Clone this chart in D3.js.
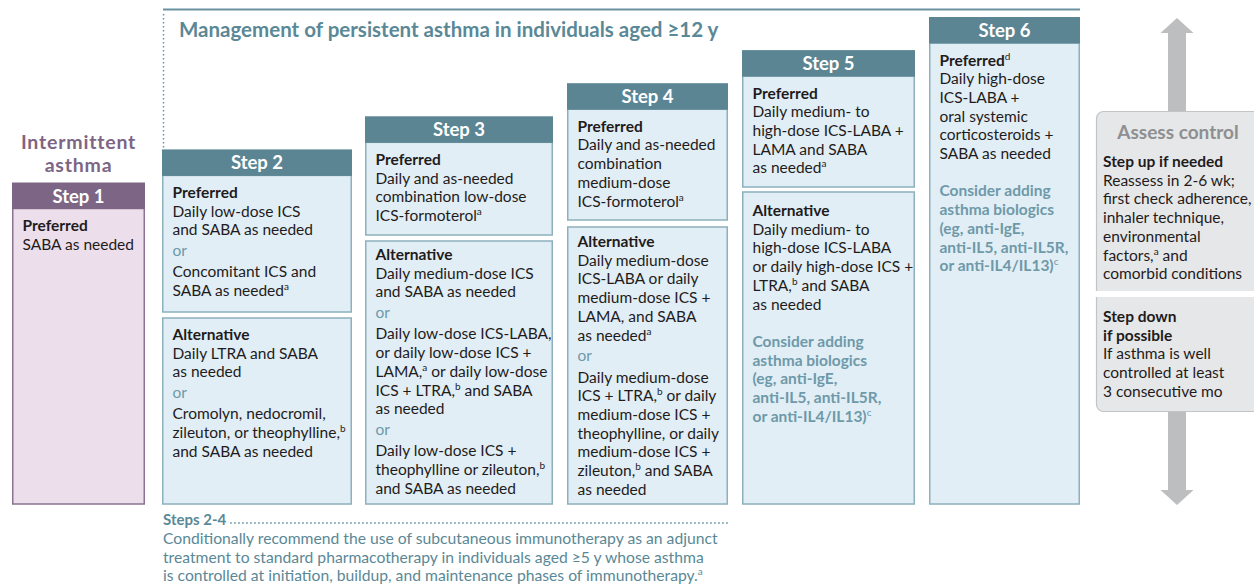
<!DOCTYPE html>
<html>
<head>
<meta charset="utf-8">
<script src="https://cdnjs.cloudflare.com/ajax/libs/d3/7.8.5/d3.min.js"></script>
<style>
  body { margin: 0; background: #fff; }
  svg { display: block; font-family: Lato, "Open Sans", sans-serif; }
</style>
</head>
<body>
<div id="chart"></div>
<script>
// ─────────────────────────────────────────────
// DONNÉES
// ─────────────────────────────────────────────
const steps = ['Step 1', 'Step 2', 'Step 3', 'Step 4', 'Step 5', 'Step 6'];
const preferredNotes = ['', '', '', '', '', 'd'];

// chaque étape : groupes d'options séparés par « or »
const preferredOptions = [
  [['SABA as needed']],
  [['Daily low-dose ICS', 'and SABA as needed'], ['Concomitant ICS and', 'SABA as needed^a']],
  [['Daily and as-needed', 'combination low-dose', 'ICS-formoterol^a']],
  [['Daily and as-needed', 'combination', 'medium-dose', 'ICS-formoterol^a']],
  [['Daily medium- to', 'high-dose ICS-LABA +', 'LAMA and SABA', 'as needed^a']],
  [['Daily high-dose', 'ICS-LABA +', 'oral systemic', 'corticosteroids +', 'SABA as needed']]
];
const alternativeOptions = [
  null,
  [['Daily LTRA and SABA', 'as needed'],
   ['Cromolyn, nedocromil,', 'zileuton, or theophylline,^b', 'and SABA as needed']],
  [['Daily medium-dose ICS', 'and SABA as needed'],
   ['Daily low-dose ICS-LABA,', 'or daily low-dose ICS +', 'LAMA,^a or daily low-dose', 'ICS + LTRA,^b and SABA', 'as needed'],
   ['Daily low-dose ICS +', 'theophylline or zileuton,^b', 'and SABA as needed']],
  [['Daily medium-dose', 'ICS-LABA or daily', 'medium-dose ICS +', 'LAMA, and SABA', 'as needed^a'],
   ['Daily medium-dose', 'ICS + LTRA,^b or daily', 'medium-dose ICS +', 'theophylline, or daily', 'medium-dose ICS +', 'zileuton,^b and SABA', 'as needed']],
  [['Daily medium- to', 'high-dose ICS-LABA', 'or daily high-dose ICS +', 'LTRA,^b and SABA', 'as needed']],
  null
];
const biologicsLines = ['Consider adding', 'asthma biologics', '(eg, anti-IgE,', 'anti-IL5, anti-IL5R,', 'or anti-IL4/IL13)^c'];
const biologicsSteps = ['Step 5', 'Step 6'];

const titleText = 'Management of persistent asthma in individuals aged ≥12 y';
const intermittentText = ['Intermittent', 'asthma'];
const assessTitle = 'Assess control';
const stepUpHead = ['Step up if needed'];
const stepUpLines = ['Reassess in 2-6 wk;', 'first check adherence,', 'inhaler technique,', 'environmental', 'factors,^a and', 'comorbid conditions'];
const stepDownHead = ['Step down', 'if possible'];
const stepDownLines = ['If asthma is well', 'controlled at least', '3 consecutive mo'];
const noteHead = 'Steps 2-4';
const noteLines = [
  'Conditionally recommend the use of subcutaneous immunotherapy as an adjunct',
  'treatment to standard pharmacotherapy in individuals aged ≥5 y whose asthma',
  'is controlled at initiation, buildup, and maintenance phases of immunotherapy.^a'
];

// ─────────────────────────────────────────────
// MISE EN PAGE
// ─────────────────────────────────────────────
const W = 1254, H = 586;
const colX   = [12, 162, 365, 567, 742, 929];
const colW   = [133, 190, 188, 161, 173, 151];
const bottom = 504;
const headH  = 26;
const prefBottom = [bottom, 312, 235, 220, 187, bottom];
const altTop     = [null, 318, 241, 227, 192, null];
const altTextY   = [null, 340, 260, 247, 216, null];
const LH = 18.7, OR_BEFORE = 20.5, OR_AFTER = 21.5;

const C = {
  head: '#5b8593', fill: '#e1eef5', stroke: '#8db0bd', or: '#6e99a9', text: '#1f1b1c',
  pHead: '#7d6585', pFill: '#ecdfeb', pStroke: '#8b7391', pText: '#7d6585',
  gFill: '#e6e7e8', gStroke: '#c3c4c6', gText: '#8e8f91', arrow: '#bdbec0'
};

const svg = d3.select('#chart').append('svg').attr('width', W).attr('height', H);

// hauteur des en-têtes : escalier régulier
const yHead = d3.scaleLinear().domain([0, 5]).range([182.5, 17]);

function addLine(g, x, y, str, opt = {}) {
  const t = g.append('text').attr('x', x).attr('y', y)
    .attr('font-size', opt.size || 15.5)
    .attr('font-weight', opt.bold ? 700 : 400)
    .attr('fill', opt.color || C.text)
    .attr('text-anchor', opt.anchor || 'start');
  if (opt.spacing) t.attr('letter-spacing', opt.spacing);
  let shifted = false;
  str.split(/(\^\w)/).forEach(part => {
    if (!part) return;
    if (part[0] === '^') {
      t.append('tspan').attr('font-size', 10).attr('font-weight', 400).attr('dy', -6).text(part.slice(1));
      shifted = true;
    } else {
      const s = t.append('tspan').text(part);
      if (shifted) { s.attr('dy', 6); shifted = false; }
    }
  });
  return t;
}

function drawSection(g, x, y, label, groups) {
  addLine(g, x, y, label, { bold: true });
  groups.forEach((lines, gi) => {
    if (gi > 0) {
      y += OR_BEFORE;
      addLine(g, x, y, 'or', { color: C.or });
      y += OR_AFTER - LH;
    }
    lines.forEach(l => { y += LH; addLine(g, x, y, l); });
  });
  return y;
}

// ligne de titre
svg.append('line').attr('x1', 163).attr('x2', 1080).attr('y1', 9.5).attr('y2', 9.5)
  .attr('stroke', '#6b919f').attr('stroke-width', 2);
svg.append('line').attr('x1', 163.5).attr('x2', 163.5).attr('y1', 14).attr('y2', 150)
  .attr('stroke', '#6b919f').attr('stroke-width', 1.5).attr('stroke-dasharray', '1.5 2.5');
addLine(svg, 179, 37, titleText, { bold: true, size: 20.5, color: '#5a8896' });

intermittentText.forEach((t, i) =>
  addLine(svg, 78.5, 149 + i * 23, t, { bold: true, size: 19.5, spacing: 0.8, color: C.pText, anchor: 'middle' }));

// colonnes
steps.forEach((name, i) => {
  const g = svg.append('g');
  const x = colX[i], w = colW[i], top = yHead(i);
  const purple = i === 0;
  const fill = purple ? C.pFill : C.fill, stroke = purple ? C.pStroke : C.stroke;

  g.append('rect').attr('x', x + 0.75).attr('y', top + headH).attr('width', w - 1.5)
    .attr('height', prefBottom[i] - top - headH).attr('fill', fill).attr('stroke', stroke).attr('stroke-width', 1.5);
  if (altTop[i] != null) {
    g.append('rect').attr('x', x + 0.75).attr('y', altTop[i]).attr('width', w - 1.5)
      .attr('height', bottom - altTop[i]).attr('fill', fill).attr('stroke', stroke).attr('stroke-width', 1.5);
  }
  g.append('rect').attr('x', x).attr('y', top).attr('width', w).attr('height', headH + 0.5)
    .attr('fill', purple ? C.pHead : C.head);
  addLine(g, x + w / 2, top + 20, name, { bold: true, size: 18.5, color: '#fff', anchor: 'middle' });

  const tx = x + 10.5;
  let y = drawSection(g, tx, top + headH + 22.5, 'Preferred' + (preferredNotes[i] ? '^' + preferredNotes[i] : ''), preferredOptions[i]);
  if (alternativeOptions[i]) y = drawSection(g, tx, altTextY[i], 'Alternative', alternativeOptions[i]);
  if (biologicsSteps.includes(name)) {
    y += LH;
    biologicsLines.forEach(l => { y += LH; addLine(g, tx, y, l, { bold: true, color: C.or }); });
  }
});

// évaluer le contrôle
const ax = 1177;
const arrowUp = d3.path();
arrowUp.moveTo(ax, 18); arrowUp.lineTo(ax + 16.5, 33); arrowUp.lineTo(ax + 9, 33); arrowUp.lineTo(ax + 9, 113);
arrowUp.lineTo(ax - 9, 113); arrowUp.lineTo(ax - 9, 33); arrowUp.lineTo(ax - 16.5, 33); arrowUp.closePath();
const arrowDown = d3.path();
arrowDown.moveTo(ax, 505); arrowDown.lineTo(ax + 16.5, 490); arrowDown.lineTo(ax + 9, 490); arrowDown.lineTo(ax + 9, 411);
arrowDown.lineTo(ax - 9, 411); arrowDown.lineTo(ax - 9, 490); arrowDown.lineTo(ax - 16.5, 490); arrowDown.closePath();
svg.append('path').attr('d', arrowUp.toString()).attr('fill', C.arrow);
svg.append('path').attr('d', arrowDown.toString()).attr('fill', C.arrow);

function roundTop(x, y, w, h, r) {
  const p = d3.path();
  p.moveTo(x, y + h); p.lineTo(x, y + r); p.arcTo(x, y, x + r, y, r); p.lineTo(x + w, y); p.lineTo(x + w, y + h);
  return p.toString();
}
function roundBottom(x, y, w, h, r) {
  const p = d3.path();
  p.moveTo(x, y); p.lineTo(x, y + h - r); p.arcTo(x, y + h, x + r, y + h, r); p.lineTo(x + w, y + h); p.lineTo(x + w, y);
  return p.toString();
}
svg.append('path').attr('d', roundTop(1096.5, 111.5, 170, 179.5, 7))
  .attr('fill', C.gFill).attr('stroke', C.gStroke).attr('stroke-width', 1.2);
svg.append('path').attr('d', roundBottom(1096.5, 297, 170, 114.5, 7))
  .attr('fill', C.gFill).attr('stroke', C.gStroke).attr('stroke-width', 1.2);

addLine(svg, 1178, 139, assessTitle, { bold: true, size: 19, color: C.gText, anchor: 'middle' });
let ay = 167;
stepUpHead.forEach(l => { addLine(svg, 1103, ay, l, { bold: true }); ay += LH; });
stepUpLines.forEach(l => { addLine(svg, 1103, ay, l); ay += LH; });
ay = 322;
stepDownHead.forEach(l => { addLine(svg, 1103, ay, l, { bold: true }); ay += LH; });
stepDownLines.forEach(l => { addLine(svg, 1103, ay, l); ay += LH; });

// note du bas
const nh = addLine(svg, 163, 525, noteHead, { bold: true, size: 15, color: '#5a8896' });
const nhEnd = 163 + nh.node().getComputedTextLength() + 4;
svg.append('line').attr('x1', nhEnd).attr('x2', 728).attr('y1', 523).attr('y2', 523)
  .attr('stroke', '#5a8896').attr('stroke-width', 1.5).attr('stroke-dasharray', '1.5 2.5');
noteLines.forEach((l, i) => addLine(svg, 163, 544 + i * 18.7, l, { size: 15.7, color: '#5a8896' }));
</script>
</body>
</html>
